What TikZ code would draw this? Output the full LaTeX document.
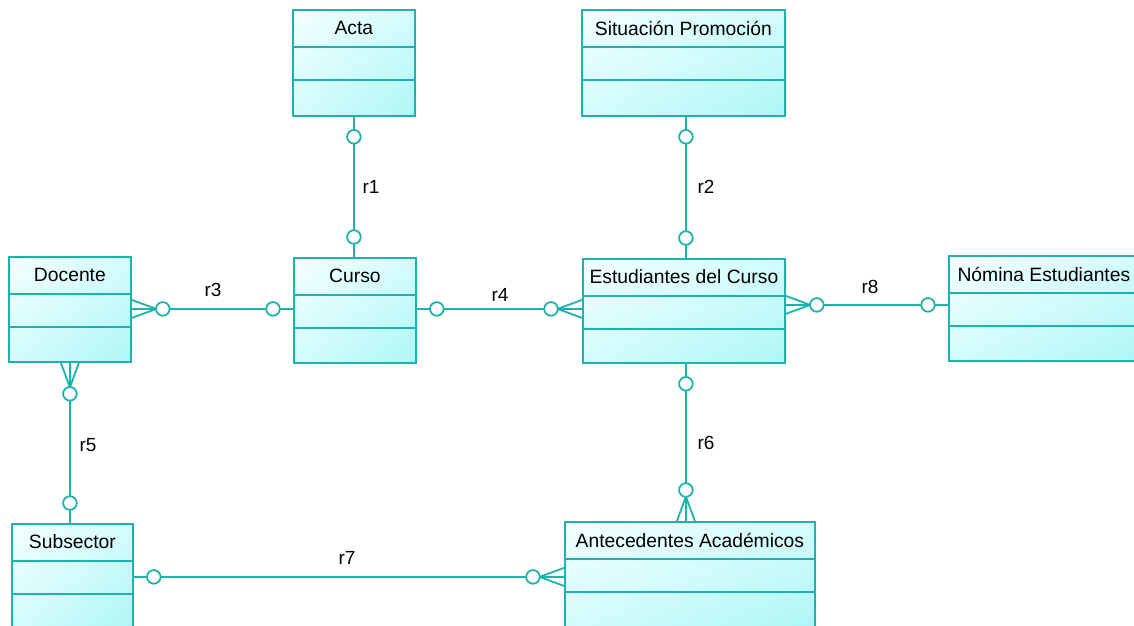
\documentclass[tikz,border=0pt]{standalone}
\usepackage{fontspec}
\setmainfont{Liberation Sans}
\usetikzlibrary{calc,shadings}

\definecolor{erline}{HTML}{1FB2AD}
\definecolor{erlight}{HTML}{F4FFFF}
\definecolor{ermid}{HTML}{D4FCFC}
\definecolor{erdeep}{HTML}{AEF6F6}

\tikzset{
  entity/.style={draw=erline, line width=1.8pt, rectangle, inner sep=0pt,
    upper left=erlight, upper right=ermid, lower left=ermid, lower right=erdeep},
  title/.style={font=\fontsize{19.3}{23}\selectfont, inner sep=0pt},
  rel/.style={draw=erline, line width=1.8pt},
  rlabel/.style={font=\fontsize{19}{23}\selectfont, inner sep=0pt},
}

% entity box: name, left, top, width, height, title
\newcommand\entity[6]{%
  \node[entity, anchor=north west, minimum width=#4pt, minimum height=#5pt] (#1) at (#2,#3) {};
  \draw[rel] ($(#1.north west)+(0,38)$) -- ($(#1.north east)+(0,38)$);
  \draw[rel] ($(#1.north west)+(0,71)$) -- ($(#1.north east)+(0,71)$);
  \node[title] (#1-t) at ($(#1.north)+(0,19)$) {#6};
}
% optional-one end: circle near the box edge #1, line heading to #2
\newcommand\oneend[2]{%
  \draw[rel, fill=white] ($(#1)!20pt!(#2)$) circle (6.8pt);}
% optional-many end: crow's foot at the box edge plus circle
\newcommand\manyend[2]{%
  \draw[rel] ($(#1)!9pt!90:(#2)$) -- ($(#1)!24.5pt!(#2)$) -- ($(#1)!9pt!-90:(#2)$);
  \draw[rel, fill=white] ($(#1)!31pt!(#2)$) circle (6.8pt);}

\begin{document}
\begin{tikzpicture}[x=1pt, y=-1pt]
\clip (0,0) rectangle (1134,625);
\fill[white] (0,0) rectangle (1134,625);

\entity{acta}{292}{9}{122}{106}{Acta}
\entity{sit}{581}{9}{203}{106}{Situación Promoción}
\entity{doc}{8}{256}{122}{105}{Docente}
\entity{curso}{293}{257}{122}{105}{Curso}
\entity{est}{582}{258}{202}{104}{Estudiantes del Curso}
\entity{nom}{948}{255}{190}{105}{Nómina Estudiantes}
\entity{sub}{11}{523}{121}{106}{Subsector}
\entity{ant}{564}{521}{250}{106}{Antecedentes Académicos}

% r1: Acta -- Curso
\coordinate (r1a) at (acta.south);
\coordinate (r1b) at (acta.south |- curso.north);
\draw[rel] (r1a) -- (r1b);
\oneend{r1a}{r1b}\oneend{r1b}{r1a}

% r2: Situación Promoción -- Estudiantes del Curso
\coordinate (r2a) at ([xshift=2.5pt]sit.south);
\coordinate (r2b) at (r2a |- est.north);
\draw[rel] (r2a) -- (r2b);
\oneend{r2a}{r2b}\oneend{r2b}{r2a}

% r3: Docente -- Curso
\coordinate (r3a) at ([yshift=0.5pt]doc.east);
\coordinate (r3b) at (r3a -| curso.west);
\draw[rel] (r3a) -- (r3b);
\manyend{r3a}{r3b}\oneend{r3b}{r3a}

% r4: Curso -- Estudiantes del Curso
\coordinate (r4a) at ([yshift=1.5pt]curso.east);
\coordinate (r4b) at (r4a -| est.west);
\draw[rel] (r4a) -- (r4b);
\oneend{r4a}{r4b}\manyend{r4b}{r4a}

% r5: Docente -- Subsector
\coordinate (r5a) at (doc.south);
\coordinate (r5b) at (doc.south |- sub.north);
\draw[rel] (r5a) -- (r5b);
\manyend{r5a}{r5b}\oneend{r5b}{r5a}

% r6: Estudiantes del Curso -- Antecedentes Académicos
\coordinate (r6a) at ([xshift=2pt]est.south);
\coordinate (r6b) at (r6a |- ant.north);
\draw[rel] (r6a) -- (r6b);
\oneend{r6a}{r6b}\manyend{r6b}{r6a}

% r7: Subsector -- Antecedentes Académicos
\coordinate (r7a) at (sub.east);
\coordinate (r7b) at (sub.east -| ant.west);
\draw[rel] (r7a) -- (r7b);
\oneend{r7a}{r7b}\manyend{r7b}{r7a}

% r8: Estudiantes del Curso -- Nómina Estudiantes
\coordinate (r8a) at ([yshift=6pt]est.east);
\coordinate (r8b) at (r8a -| nom.west);
\draw[rel] (r8a) -- (r8b);
\manyend{r8a}{r8b}\oneend{r8b}{r8a}

% relationship names
\node[rlabel] (l1) at (371,187) {r1};
\node[rlabel] (l2) at (706,187) {r2};
\node[rlabel] (l3) at (213,290) {r3};
\node[rlabel] (l4) at (500,295) {r4};
\node[rlabel] (l5) at (88,445) {r5};
\node[rlabel] (l6) at (706,443) {r6};
\node[rlabel] (l7) at (347,558) {r7};
\node[rlabel] (l8) at (870,287) {r8};
\end{tikzpicture}
\end{document}
